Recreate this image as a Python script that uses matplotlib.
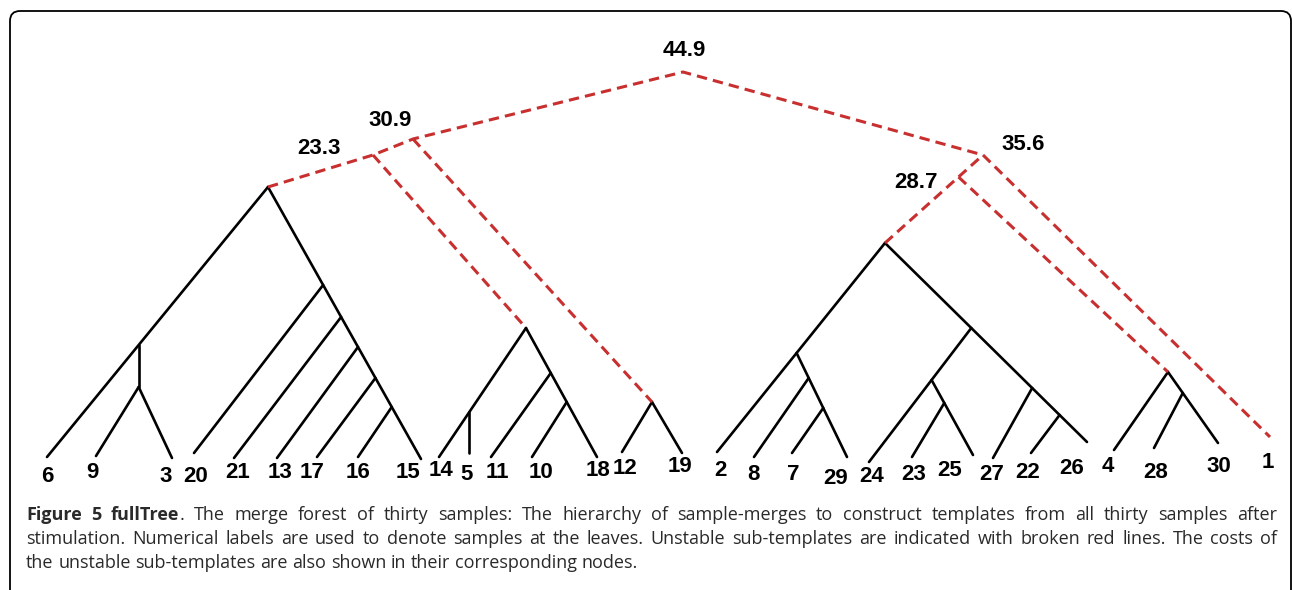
import matplotlib
matplotlib.use('Agg')
import matplotlib.pyplot as plt
from matplotlib.patches import FancyBboxPatch

W, H = 1292, 590
RED = '#c83030'

# leaves: label, end of the branch, position of the number
leaf_names = ['6', '9', '3', '20', '21', '13', '17', '16', '15', '14', '5', '11', '10', '18', '12',
              '19', '2', '8', '7', '29', '24', '23', '25', '27', '22', '26', '4', '28', '30', '1']
tip_x = [47, 96, 172, 194, 234, 277, 317, 358, 421, 439, 471, 491, 532, 597, 622,
         682, 717, 754, 792, 847, 869, 912, 973, 993, 1031, 1087, 1114, 1154, 1218, 1270]
tip_y = [457, 456, 458, 453, 458, 458, 457, 457, 459, 457, 453, 457, 457, 457, 452,
         453, 452, 457, 453, 457, 462, 457, 455, 458, 453, 442, 450, 448, 443, 437]
label_x = [47, 92, 166, 196, 238, 280, 312, 358, 408, 441, 467, 497, 541, 598, 625,
           680, 720, 753, 793, 836, 872, 914, 950, 992, 1028, 1072, 1108, 1156, 1219, 1268]
label_y = [476, 473, 476, 477, 472, 472, 472, 473, 472, 470, 475, 473, 473, 470, 468,
           467, 471, 474, 475, 478, 477, 474, 470, 474, 472, 469, 467, 472, 467, 462]

# merge nodes (tops of the sub-trees and the unstable nodes)
node_names = ['top', 'c309', 'c233', 'c356', 'left', 'mid', 'pair', 'right', 'small']
node_x = [683, 413, 373, 983, 268, 526, 652, 885, 1168]
node_y = [72, 139, 155, 155, 187, 328, 402, 243, 372]
c287_y = 177

# heights where side branches leave a longer branch
left_spine_y = [285, 317, 347, 378, 407]       # 20, 21, 13, 17, 16
left_spine_leaves = ['20', '21', '13', '17', '16']
split_93_y = [345, 387]
mid_5_y = 412
mid_right_y = [373, 402]                        # 11, 10
mid_right_leaves = ['11', '10']
right_a_y = 353
right_a_y_side = [378, 408]                     # 8, 7
right_a_leaves = ['8', '7']
right_d_y = 328
right_g_y = 380
right_23_y = 403
right_spine_y = [388, 415]                      # 27, 22
right_spine_leaves = ['27', '22']
small_28_y = 393

cost_labels = ['44.9', '30.9', '23.3', '35.6', '28.7']
cost_x = [684, 390, 319, 1023, 916]
cost_y = [50, 120, 148, 145, 182]

caption_bold = 'Figure 5 fullTree'
caption_lines = [
    '. The merge forest of thirty samples: The hierarchy of sample-merges to construct templates from all thirty samples after',
    'stimulation. Numerical labels are used to denote samples at the leaves. Unstable sub-templates are indicated with broken red lines. The costs of',
    'the unstable sub-templates are also shown in their corresponding nodes.',
]
caption_base_y = [520, 544, 568]

fig = plt.figure(figsize=(W / 100, H / 100), dpi=100)
ax = fig.add_axes([0, 0, 1, 1])
ax.set_xlim(0, W)
ax.set_ylim(H, 0)
ax.axis('off')

frame = FancyBboxPatch((10, 11), 1281, 640, boxstyle='round,pad=0,rounding_size=10',
                       fc='white', ec='black', lw=1.3, zorder=0)
ax.add_patch(frame)

tips = {n: (x, y) for n, x, y in zip(leaf_names, tip_x, tip_y)}
nodes = {n: (x, y) for n, x, y in zip(node_names, node_x, node_y)}


def on(a, b, y):
    t = (y - a[1]) / (b[1] - a[1])
    return (a[0] + t * (b[0] - a[0]), y)


def solid(a, b):
    ax.plot([a[0], b[0]], [a[1], b[1]], color='black', lw=1.9, solid_capstyle='round', zorder=2)


def dashed(pts):
    ax.plot([p[0] for p in pts], [p[1] for p in pts], color=RED, lw=2.2,
            linestyle=(0, (3.4, 2.0)), dash_capstyle='butt', zorder=2)


# left tree
L = nodes['left']
solid(L, tips['6'])
q = on(L, tips['6'], split_93_y[0])
r = (q[0], split_93_y[1])
solid(q, r)
solid(r, tips['9'])
solid(r, tips['3'])
solid(L, tips['15'])
for y, leaf in zip(left_spine_y, left_spine_leaves):
    solid(on(L, tips['15'], y), tips[leaf])

# middle tree
M = nodes['mid']
solid(M, tips['14'])
p = on(M, tips['14'], mid_5_y)
solid(p, (p[0], tips['5'][1]))
solid(M, tips['18'])
for y, leaf in zip(mid_right_y, mid_right_leaves):
    solid(on(M, tips['18'], y), tips[leaf])

# 12 / 19
P2 = nodes['pair']
solid(P2, tips['12'])
solid(P2, tips['19'])

# right tree
R = nodes['right']
solid(R, tips['2'])
A = on(R, tips['2'], right_a_y)
solid(A, tips['29'])
for y, leaf in zip(right_a_y_side, right_a_leaves):
    solid(on(A, tips['29'], y), tips[leaf])
solid(R, tips['26'])
D = on(R, tips['26'], right_d_y)
solid(D, tips['24'])
G = on(D, tips['24'], right_g_y)
solid(G, tips['25'])
solid(on(G, tips['25'], right_23_y), tips['23'])
for y, leaf in zip(right_spine_y, right_spine_leaves):
    solid(on(R, tips['26'], y), tips[leaf])

# 4 / 28 / 30
S = nodes['small']
solid(S, tips['4'])
solid(S, tips['30'])
solid(on(S, tips['30'], small_28_y), tips['28'])

# unstable sub-templates
c287 = on(R, nodes['c356'], c287_y)
dashed([L, nodes['c233'], nodes['c309'], nodes['top'], nodes['c356']])
dashed([R, c287, nodes['c356']])
dashed([nodes['c233'], M])
dashed([nodes['c309'], P2])
dashed([c287, S])
dashed([nodes['c356'], tips['1']])

num_font = dict(family=['Liberation Sans', 'DejaVu Sans'], weight='bold', fontsize=16)
for name, x, y in zip(leaf_names, label_x, label_y):
    ax.text(x, y, name, ha='center', va='center', color='black', **num_font)
for name, x, y in zip(cost_labels, cost_x, cost_y):
    ax.text(x, y, name, ha='center', va='center', color='black', **num_font)

# caption, justified like the source
cap_font = dict(family=['Open Sans', 'DejaVu Sans'], fontsize=13, color='#2a2a2a')
renderer = fig.canvas.get_renderer()


def width(s, weight):
    t = ax.text(0, 0, s, weight=weight, **cap_font)
    w = t.get_window_extent(renderer).width
    t.remove()
    return w


words = [[(w, 'bold')] for w in caption_bold.split()]
first = caption_lines[0].split()
words[-1].append((first[0], 'normal'))
words += [[(w, 'normal')] for w in first[1:]]
lines = [words] + [[[(w, 'normal')] for w in ln.split()] for ln in caption_lines[1:]]

x0, x1 = 26, 1277
space = width('a a', 'normal') - width('aa', 'normal')
for i, (ln, base) in enumerate(zip(lines, caption_base_y)):
    widths = [[width(s, wt) for s, wt in wd] for wd in ln]
    total = sum(sum(ws) for ws in widths)
    gap = (x1 - x0 - total) / (len(ln) - 1) if i < len(lines) - 1 else space
    x = x0
    for wd, ws in zip(ln, widths):
        for (s, wt), w in zip(wd, ws):
            ax.text(x, base, s, weight=wt, ha='left', va='baseline', **cap_font)
            x += w
        x += gap

fig.savefig('out.png', dpi=100)
